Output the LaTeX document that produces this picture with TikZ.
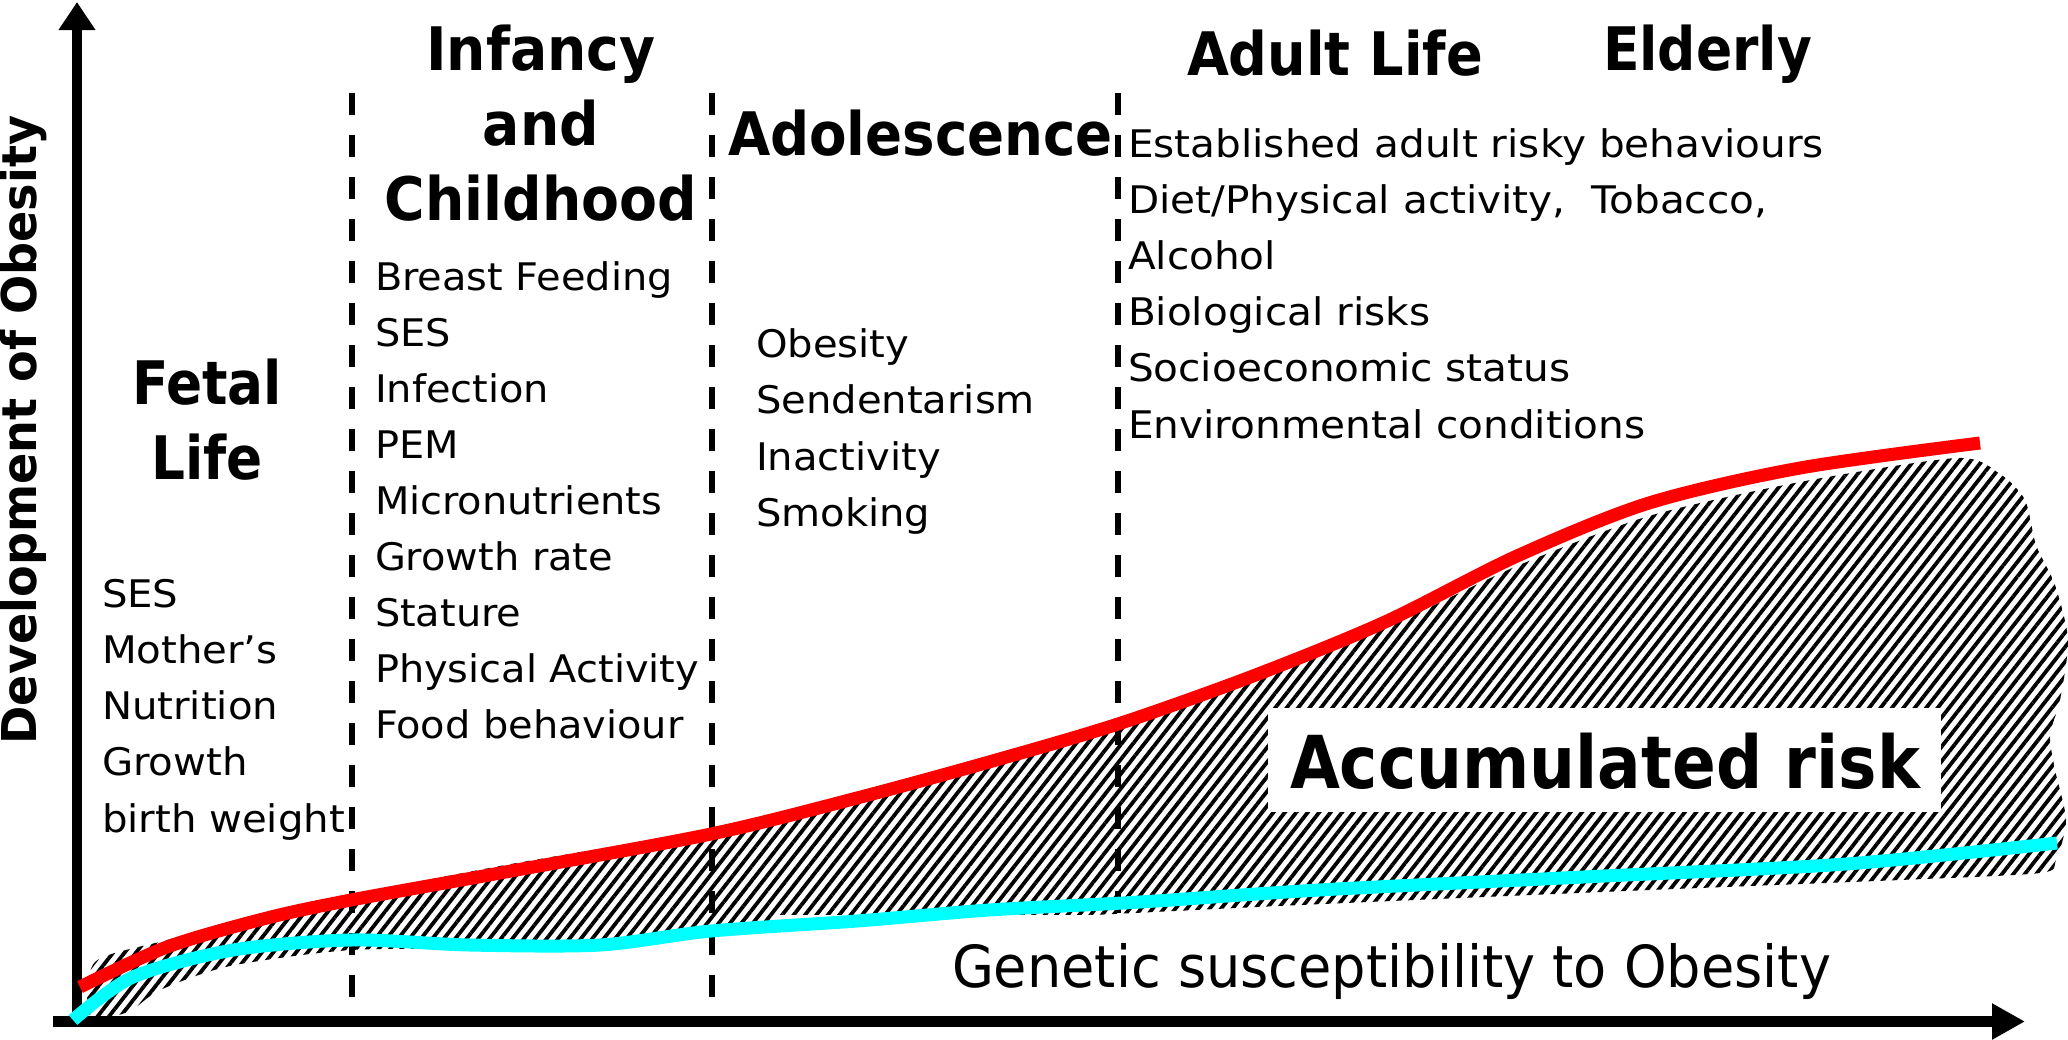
\documentclass[tikz,border=0pt]{standalone}
\usepackage{fontspec}
\setmainfont{DejaVu Sans}
\usepackage{graphicx}
\usetikzlibrary{arrows.meta,patterns.meta}

% scale a box horizontally to a given width, keeping its height
\newcommand\fitw[2]{\resizebox{#1}{\height}{#2}}
% a stack of lines: column type, font size, line distance, rows
\newcommand\rowstack[4]{{\fontsize{#2}{#3}\selectfont\begin{tabular}[t]{@{}#1@{}}#4\end{tabular}}}

\definecolor{riskred}{RGB}{255,0,0}
\definecolor{genecyan}{RGB}{0,255,255}

\begin{document}
\begin{tikzpicture}[x=1pt,y=-1pt,
  txt/.style={inner sep=0pt,outer sep=0pt},
  divider/.style={line width=6pt,dash pattern=on 22pt off 20pt},
  curve/.style={line width=13pt},
  hatch/.style={pattern={Lines[angle=52,distance=9pt,line width=3.8pt]},pattern color=black},
  axis/.style={line width=10.5pt}]
\useasboundingbox (0,0) rectangle (2068,1039);
\fill[white] (0,0) rectangle (2068,1039);

% accumulated risk area
\fill[hatch] plot[smooth cycle,tension=0.45] coordinates {
  (95,962) (167,940) (267,912) (351,895) (500,866) (640,842) (711,830) (857,798)
  (989,765) (1118,728) (1253,680) (1385,628) (1517,566) (1649,516)
  (1800,482) (1957,458) (2000,474) (2025,500) (2036,545) (2055,585)
  (2068,640) (2060,700) (2050,735) (2055,770) (2066,820) (2056,860)
  (2040,873) (1900,880) (1650,890) (1300,905) (1050,917) (850,925)
  (711,936) (500,948) (351,950) (230,966) (160,990) (128,1012) (90,1016)};

% life stage dividers
\coordinate (d1t) at (352,93);  \coordinate (d1b) at (352,1016);
\coordinate (d2t) at (712,93);  \coordinate (d2b) at (712,1016);
\coordinate (d3t) at (1118,93); \coordinate (d3b) at (1118,1016);
\draw[divider] (d1t) -- (d1b);
\draw[divider] (d2t) -- (d2b);
\draw[divider] (d3t) -- (d3b);

% white panels behind the two curve labels
\node[fill=white,inner sep=0pt,minimum width=1074pt,minimum height=90pt] (genebox) at (1313,960) {};
\node[fill=white,inner sep=0pt,minimum width=673pt,minimum height=104pt] (accbox) at (1604.5,760) {};

% axes
\coordinate (origin) at (77,1027);
\coordinate (ytip) at (77,2);
\coordinate (xstart) at (53,1021.5);
\coordinate (xtip) at (2025,1021.5);
\draw[axis,-{Triangle[width=35pt,length=28pt]}] (origin) -- (ytip);
\draw[axis,-{Triangle[width=34pt,length=33pt]}] (xstart) -- (xtip);

% genetic susceptibility
\draw[curve,genecyan] plot[smooth,tension=0.5] coordinates {
  (73,1020) (133,977) (233,950) (351,940) (470,945) (600,945) (711,931)
  (857,921) (989,910) (1140,902) (1319,890) (1583,877) (1846,864) (2057,843)};

% accumulated risk
\draw[curve,riskred] plot[smooth,tension=0.5] coordinates {
  (80,987) (167,947) (267,918) (351,900) (500,873) (711,834) (857,798)
  (989,762) (1118,724) (1253,676) (1385,622) (1517,556) (1649,503)
  (1800,468) (1980,443)};

% axis label
\node[txt,rotate=90,anchor=base] (ylabel) at (36,430)
  {\fitw{629pt}{\fontsize{48}{58}\selectfont\bfseries Development of Obesity}};

% stage titles
\node[txt,anchor=base] (fetal) at (207,404)
  {\fitw{150pt}{\rowstack{c}{60}{75}{\bfseries Fetal\\\bfseries Life}}};
\node[txt,anchor=base] (infancy) at (541,70)
  {\fitw{312pt}{\rowstack{c}{60}{75}{\bfseries Infancy\\\bfseries and\\\bfseries Childhood}}};
\node[txt,anchor=base west] (adolescence) at (728,155)
  {\fitw{385pt}{\fontsize{60}{72}\selectfont\bfseries Adolescence}};
\node[txt,anchor=base west] (adult) at (1187,75)
  {\fitw{296pt}{\fontsize{60}{72}\selectfont\bfseries Adult Life}};
\node[txt,anchor=base west] (elderly) at (1603,70)
  {\fitw{209pt}{\fontsize{60}{72}\selectfont\bfseries Elderly}};

% risk factors of each stage
\node[txt,anchor=base west] (fetalrisks) at (102,607)
  {\fitw{243pt}{\rowstack{l}{38}{56.3}{SES\\Mother’s\\Nutrition\\Growth\\birth weight}}};
\node[txt,anchor=base west] (infancyrisks) at (375,290)
  {\fitw{324pt}{\rowstack{l}{38}{56.1}{Breast Feeding\\SES\\Infection\\PEM\\Micronutrients\\Growth rate\\Stature\\Physical Activity\\Food behaviour}}};
\node[txt,anchor=base west] (adolrisks) at (756,357)
  {\fitw{279pt}{\rowstack{l}{38}{56.5}{Obesity\\Sendentarism\\Inactivity\\Smoking}}};
\node[txt,anchor=base west] (adultrisks) at (1128,157)
  {\fitw{696pt}{\rowstack{l}{38}{56.2}{Established adult risky behaviours\\Diet/Physical activity,\ \ Tobacco,\\Alcohol\\Biological risks\\Socioeconomic status\\Environmental conditions}}};

% curve labels
\node[txt,anchor=base west] (acclabel) at (1290,788)
  {\fitw{630pt}{\fontsize{73}{80}\selectfont\bfseries Accumulated risk}};
\node[txt,anchor=base west] (genelabel) at (952,987)
  {\fitw{879pt}{\fontsize{58}{66}\selectfont Genetic susceptibility to Obesity}};
\end{tikzpicture}
\end{document}
